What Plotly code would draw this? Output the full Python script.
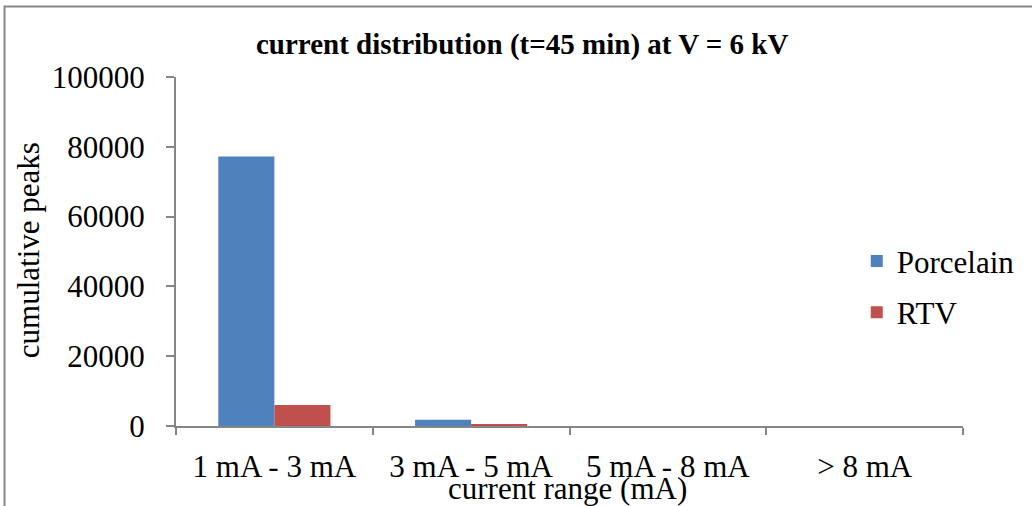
import plotly.graph_objects as go

categories = ["1 mA - 3 mA", "3 mA - 5 mA", "5 mA - 8 mA", "> 8 mA"]
porcelain = [77200, 1800, 0, 0]
rtv = [6000, 400, 0, 0]
y_ticks = [0, 20000, 40000, 60000, 80000, 100000]

FONT = "Liberation Serif, Times New Roman, serif"
AXIS_GREY = "#868686"
TXT = 31

fig = go.Figure()
fig.add_trace(go.Bar(name="Porcelain", x=categories, y=porcelain, legendgroup="p",
                     marker=dict(color="#4F81BD", line=dict(width=0))))
fig.add_trace(go.Bar(name="RTV", x=categories, y=rtv, legendgroup="r",
                     marker=dict(color="#C0504D", line=dict(width=0))))

fig.update_layout(
    width=1032, height=506,
    margin=dict(l=176, r=69, t=77, b=80),
    paper_bgcolor="white", plot_bgcolor="white",
    barmode="group", bargap=0.43, bargroupgap=0,
    font=dict(family=FONT, size=TXT, color="black"),
    title=dict(text="<b>current distribution (t=45 min) at V = 6 kV</b>",
               font=dict(family=FONT, size=29, color="black"),
               x=0.506, xanchor="center", y=0.913, yanchor="middle"),
    showlegend=True,
    legend=dict(x=0.865, xanchor="left", y=0.399, yanchor="middle",
                font=dict(family=FONT, size=TXT), itemwidth=30,
                traceorder="grouped", tracegroupgap=8,
                bgcolor="rgba(0,0,0,0)"),
    xaxis=dict(showline=True, linecolor=AXIS_GREY, linewidth=2,
               ticks="outside", tickson="boundaries", ticklen=7,
               tickcolor=AXIS_GREY, tickwidth=2, ticklabelstandoff=12,
               tickfont=dict(family=FONT, size=TXT), showgrid=False),
    yaxis=dict(range=[0, 100000], tickvals=y_ticks, showline=True,
               linecolor=AXIS_GREY, linewidth=2, ticks="outside", ticklen=8,
               tickcolor=AXIS_GREY, tickwidth=2, showgrid=False,
               zeroline=False, tickformat="d", ticklabelstandoff=15,
               tickfont=dict(family=FONT, size=TXT)),
    annotations=[
        dict(text="current range (mA)", xref="paper", yref="paper",
             x=0.498, y=-0.18, xanchor="center", yanchor="middle",
             showarrow=False, font=dict(family=FONT, size=TXT)),
        dict(text="cumulative peaks", xref="paper", yref="paper",
             x=-0.188, y=0.504, xanchor="center", yanchor="middle",
             textangle=-90, showarrow=False, font=dict(family=FONT, size=TXT)),
    ],
    shapes=[
        dict(type="rect", xref="paper", yref="paper",
             x0=(4.5 - 176) / 787, x1=1.2, y0=-0.4,
             y1=(425.7 - 6.5) / 348.7,
             line=dict(color=AXIS_GREY, width=2), fillcolor="rgba(0,0,0,0)",
             layer="below"),
    ],
)

fig.write_html("out.html")
